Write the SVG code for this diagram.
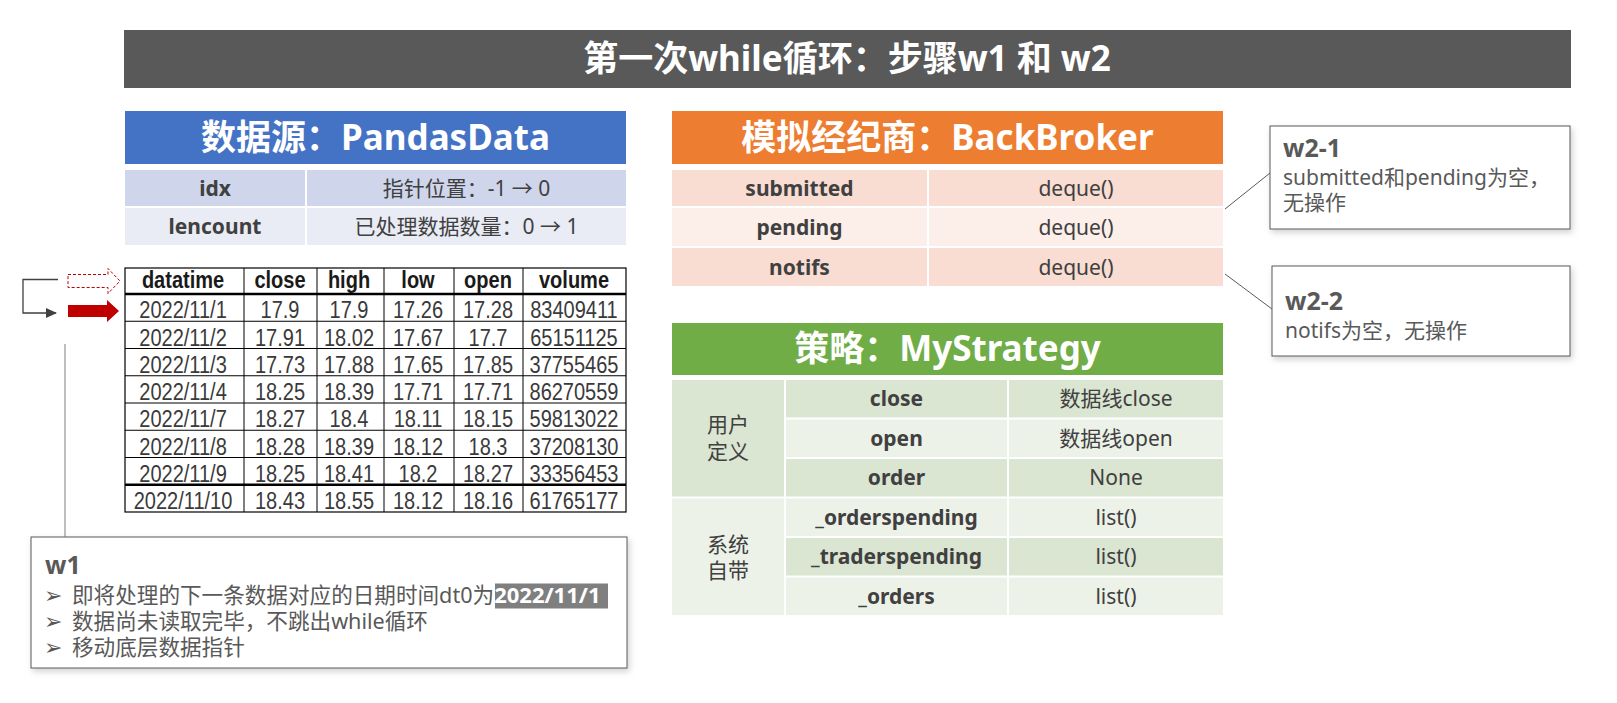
<svg xmlns="http://www.w3.org/2000/svg" width="1617" height="703" viewBox="0 0 1617 703">
<defs>
<style>
.f{font-family:"Noto Sans","Noto Sans CJK SC",sans-serif;}
.hd{font-size:35px;font-weight:bold;fill:#fff;text-anchor:middle;}
.lb{font-size:21px;font-weight:bold;fill:#404040;text-anchor:middle;}
.vl{font-size:21px;fill:#404040;text-anchor:middle;}
.tb{font-family:"Liberation Sans",Arial,sans-serif;font-size:23px;fill:#3a3a3a;text-anchor:middle;}
.th{font-family:"Liberation Sans",Arial,sans-serif;font-size:23px;font-weight:bold;fill:#1a1a1a;text-anchor:middle;}
.note{font-size:21px;fill:#595959;}
.w1n{font-size:21.6px;fill:#595959;}
.nt{font-size:25px;font-weight:bold;fill:#595959;}
.bul{font-family:"DejaVu Sans",sans-serif;font-size:22px;fill:#595959;}
.box{fill:#fff;stroke:#595959;stroke-width:1;}
.conn{fill:none;stroke:#595959;stroke-width:1;}
</style>
<filter id="sh" x="-5%" y="-10%" width="112%" height="125%">
<feDropShadow dx="2" dy="3" stdDeviation="3" flood-color="#000" flood-opacity="0.18"/>
</filter>
<marker id="ah" markerWidth="11" markerHeight="10" refX="10" refY="5" orient="auto" markerUnits="userSpaceOnUse">
<path d="M0,0 L11,5 L0,10 z" fill="#404040"/>
</marker>
</defs>
<rect width="1617" height="703" fill="#fff"/>

<g id="title">
<rect x="124" y="30" width="1447" height="58" fill="#595959"/>
<text class="f" x="847" y="71" font-size="35" font-weight="bold" fill="#fff" text-anchor="middle">第一次while循环：步骤w1 和 w2</text>
</g>

<g id="pandasdata">
<rect x="125" y="111" width="501" height="53" fill="#4472C4"/>
<text class="f hd" x="375.5" y="150">数据源：PandasData</text>
<rect x="125" y="170" width="180" height="36" fill="#CFD5EA"/>
<rect x="307" y="170" width="319" height="36" fill="#CFD5EA"/>
<rect x="125" y="208" width="180" height="37" fill="#E9EBF5"/>
<rect x="307" y="208" width="319" height="37" fill="#E9EBF5"/>
<text class="f lb" x="215" y="195.5">idx</text>
<text class="f vl" x="466.5" y="195.5">指针位置：-1 → 0</text>
<text class="f lb" x="215" y="234">lencount</text>
<text class="f vl" x="466.5" y="234">已处理数据数量：0 → 1</text>
</g>

<g id="datatable">
<rect x="125" y="268" width="501" height="244" fill="#fff" stroke="#000" stroke-width="1.2"/>
<g stroke="#000" stroke-width="1">
<line x1="244" y1="268" x2="244" y2="512"/>
<line x1="317" y1="268" x2="317" y2="512"/>
<line x1="384" y1="268" x2="384" y2="512"/>
<line x1="454" y1="268" x2="454" y2="512"/>
<line x1="523" y1="268" x2="523" y2="512"/>
<line x1="125" y1="321.25" x2="626" y2="321.25"/>
<line x1="125" y1="348.5" x2="626" y2="348.5"/>
<line x1="125" y1="375.75" x2="626" y2="375.75"/>
<line x1="125" y1="403" x2="626" y2="403"/>
<line x1="125" y1="430.25" x2="626" y2="430.25"/>
<line x1="125" y1="457.5" x2="626" y2="457.5"/>
</g>
<line x1="125" y1="294" x2="626" y2="294" stroke="#000" stroke-width="2.5"/>
<line x1="125" y1="484.75" x2="626" y2="484.75" stroke="#000" stroke-width="2.5"/>
<g transform="translate(183,0) scale(0.87,1)">
<text class="th" x="0" y="288.5">datatime</text>
<g class="tb"><text x="0" y="318.5">2022/11/1</text><text x="0" y="345.7">2022/11/2</text><text x="0" y="373">2022/11/3</text><text x="0" y="400.2">2022/11/4</text><text x="0" y="427.5">2022/11/7</text><text x="0" y="454.7">2022/11/8</text><text x="0" y="482">2022/11/9</text><text x="0" y="509.2">2022/11/10</text></g>
</g>
<g transform="translate(280,0) scale(0.87,1)">
<text class="th" x="0" y="288.5">close</text>
<g class="tb"><text x="0" y="318.5">17.9</text><text x="0" y="345.7">17.91</text><text x="0" y="373">17.73</text><text x="0" y="400.2">18.25</text><text x="0" y="427.5">18.27</text><text x="0" y="454.7">18.28</text><text x="0" y="482">18.25</text><text x="0" y="509.2">18.43</text></g>
</g>
<g transform="translate(349,0) scale(0.87,1)">
<text class="th" x="0" y="288.5">high</text>
<g class="tb"><text x="0" y="318.5">17.9</text><text x="0" y="345.7">18.02</text><text x="0" y="373">17.88</text><text x="0" y="400.2">18.39</text><text x="0" y="427.5">18.4</text><text x="0" y="454.7">18.39</text><text x="0" y="482">18.41</text><text x="0" y="509.2">18.55</text></g>
</g>
<g transform="translate(418,0) scale(0.87,1)">
<text class="th" x="0" y="288.5">low</text>
<g class="tb"><text x="0" y="318.5">17.26</text><text x="0" y="345.7">17.67</text><text x="0" y="373">17.65</text><text x="0" y="400.2">17.71</text><text x="0" y="427.5">18.11</text><text x="0" y="454.7">18.12</text><text x="0" y="482">18.2</text><text x="0" y="509.2">18.12</text></g>
</g>
<g transform="translate(488,0) scale(0.87,1)">
<text class="th" x="0" y="288.5">open</text>
<g class="tb"><text x="0" y="318.5">17.28</text><text x="0" y="345.7">17.7</text><text x="0" y="373">17.85</text><text x="0" y="400.2">17.71</text><text x="0" y="427.5">18.15</text><text x="0" y="454.7">18.3</text><text x="0" y="482">18.27</text><text x="0" y="509.2">18.16</text></g>
</g>
<g transform="translate(574,0) scale(0.87,1)">
<text class="th" x="0" y="288.5">volume</text>
<g class="tb"><text x="0" y="318.5">83409411</text><text x="0" y="345.7">65151125</text><text x="0" y="373">37755465</text><text x="0" y="400.2">86270559</text><text x="0" y="427.5">59813022</text><text x="0" y="454.7">37208130</text><text x="0" y="482">33356453</text><text x="0" y="509.2">61765177</text></g>
</g>
</g>

<g id="pointer-old">
<polygon points="68,274.5 108,274.5 108,268.5 120,281 108,293.5 108,287.5 68,287.5" fill="#fff" stroke="#C00000" stroke-width="1" stroke-dasharray="3,2"/>
</g>
<g id="pointer-new">
<polygon points="68,305 107,305 107,300 119,311 107,322 107,317 68,317" fill="#C00000"/>
</g>

<g id="broker">
<rect x="672" y="111" width="551" height="53" fill="#ED7D31"/>
<text class="f hd" x="947.5" y="150">模拟经纪商：BackBroker</text>
<rect x="672" y="170" width="255" height="36" fill="#F9DCD2"/>
<rect x="929" y="170" width="294" height="36" fill="#F9DCD2"/>
<rect x="672" y="208" width="255" height="38" fill="#FCEEE9"/>
<rect x="929" y="208" width="294" height="38" fill="#FCEEE9"/>
<rect x="672" y="248" width="255" height="38" fill="#F9DCD2"/>
<rect x="929" y="248" width="294" height="38" fill="#F9DCD2"/>
<text class="f lb" x="799.5" y="195.5">submitted</text>
<text class="f vl" x="1076" y="195.5">deque()</text>
<text class="f lb" x="799.5" y="234.5">pending</text>
<text class="f vl" x="1076" y="234.5">deque()</text>
<text class="f lb" x="799.5" y="274.5">notifs</text>
<text class="f vl" x="1076" y="274.5">deque()</text>
</g>

<g id="strategy">
<rect x="672" y="323" width="551" height="52" fill="#70AD47"/>
<text class="f hd" x="947.5" y="361">策略：MyStrategy</text>
<rect x="672" y="380" width="112" height="116.5" fill="#DAE5D2"/>
<rect x="672" y="498.5" width="112" height="116.5" fill="#EDF2E9"/>
<rect x="786" y="380" width="221" height="37.5" fill="#DAE5D2"/>
<rect x="1009" y="380" width="214" height="37.5" fill="#DAE5D2"/>
<rect x="786" y="419.5" width="221" height="37.5" fill="#EDF2E9"/>
<rect x="1009" y="419.5" width="214" height="37.5" fill="#EDF2E9"/>
<rect x="786" y="459" width="221" height="37.5" fill="#DAE5D2"/>
<rect x="1009" y="459" width="214" height="37.5" fill="#DAE5D2"/>
<rect x="786" y="498.5" width="221" height="37.5" fill="#EDF2E9"/>
<rect x="1009" y="498.5" width="214" height="37.5" fill="#EDF2E9"/>
<rect x="786" y="538" width="221" height="37.5" fill="#DAE5D2"/>
<rect x="1009" y="538" width="214" height="37.5" fill="#DAE5D2"/>
<rect x="786" y="577.5" width="221" height="37.5" fill="#EDF2E9"/>
<rect x="1009" y="577.5" width="214" height="37.5" fill="#EDF2E9"/>
<text class="f vl" x="728" y="431.5">用户<tspan x="728" dy="27">定义</tspan></text>
<text class="f vl" x="728" y="552">系统<tspan x="728" dy="26">自带</tspan></text>
<text class="f lb" x="896.5" y="406">close</text>
<text class="f vl" x="1116" y="406">数据线close</text>
<text class="f lb" x="896.5" y="445.5">open</text>
<text class="f vl" x="1116" y="445.5">数据线open</text>
<text class="f lb" x="896.5" y="485">order</text>
<text class="f vl" x="1116" y="485">None</text>
<text class="f lb" x="896.5" y="524.5">_orderspending</text>
<text class="f vl" x="1116" y="524.5">list()</text>
<text class="f lb" x="896.5" y="564">_traderspending</text>
<text class="f vl" x="1116" y="564">list()</text>
<text class="f lb" x="896.5" y="603.5">_orders</text>
<text class="f vl" x="1116" y="603.5">list()</text>
</g>

<g id="w2-1">
<rect class="box" x="1270" y="126" width="300" height="103" filter="url(#sh)"/>
<text class="f nt" x="1283" y="157">w2-1</text>
<text class="f note" x="1283" y="185">submitted和pending为空，<tspan x="1283" dy="25">无操作</tspan></text>
</g>

<g id="w2-2">
<rect class="box" x="1272" y="266" width="298" height="90" filter="url(#sh)"/>
<text class="f nt" x="1285" y="310">w2-2</text>
<text class="f note" x="1285" y="338">notifs为空，无操作</text>
</g>

<g id="w1">
<rect class="box" x="31" y="537" width="596" height="131" filter="url(#sh)"/>
<text class="f nt" x="45" y="573.5">w1</text>
<text class="bul" x="44" y="602.5">➢<tspan x="44" dy="26.5">➢</tspan><tspan x="44" dy="26">➢</tspan></text>
<rect x="495" y="583.5" width="113" height="25" fill="#7F7F7F"/>
<text class="f w1n" x="72" y="602.5">即将处理的下一条数据对应的日期时间dt0为<tspan font-size="22" font-weight="bold" fill="#fff">2022/11/1</tspan><tspan x="72" dy="26.5">数据尚未读取完毕，不跳出while循环</tspan><tspan x="72" dy="26">移动底层数据指针</tspan></text>
</g>

<g id="connectors">
<path d="M58,279.5 H23 V313 H56" fill="none" stroke="#404040" stroke-width="1.3" marker-end="url(#ah)"/>
<line x1="65" y1="344" x2="65" y2="537" stroke="#7F7F7F" stroke-width="1"/>
<line class="conn" x1="1225" y1="209" x2="1270" y2="173"/>
<line class="conn" x1="1225" y1="274" x2="1272" y2="309"/>
</g>
</svg>
